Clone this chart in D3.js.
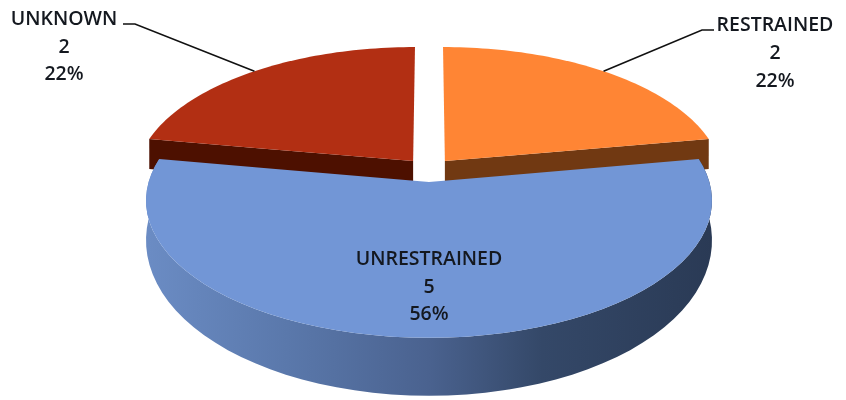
<!DOCTYPE html>
<html>
<head>
<meta charset="utf-8">
<script src="https://cdn.jsdelivr.net/npm/d3@7"></script>
<style>
  html, body { margin: 0; padding: 0; background: #fff; }
  svg { filter: blur(0.4px); }
  text { font-family: "Open Sans", sans-serif; font-weight: 600; font-size: 19.5px; fill: #14181f; text-anchor: middle; }
</style>
</head>
<body>
<svg width="846" height="400"></svg>
<script>
const categories = ["RESTRAINED", "UNRESTRAINED", "UNKNOWN"];
const counts = [2, 5, 2];
const percents = ["22%", "56%", "22%"];
const topColors = ["#ff8534", "#7296d6", "#b22f13"];
const sideColors = ["#713912", "url(#blueSide)", "#4d1000"];

const svg = d3.select("svg");

// pie plane -> screen, with a bit of perspective (near side is bigger)
const cx = 429, cy = 170, rx = 277, ry = 131.5, k = 0.134, explode = 0.09;
const project = (u, v) => {
  const s = 1 / (1 - k * v);
  return [cx + rx * u * s, cy + ry * v * s];
};
const depth = v => 35 + 21 * v;

const slices = d3.pie().sort(null)(counts).map((d, i) => {
  const mid = (d.startAngle + d.endAngle) / 2;
  return {
    i, start: d.startAngle, end: d.endAngle, mid,
    ox: explode * Math.sin(mid),
    oy: -explode * Math.cos(mid)
  };
});

const rimPoint = (s, a) => [s.ox + Math.sin(a), s.oy - Math.cos(a)];
const rim = s => d3.range(0, 61).map(j => rimPoint(s, s.start + (s.end - s.start) * j / 60));
const line = d3.line();
const upper = p => project(p[0], p[1]);
const lower = p => {
  const q = project(p[0], p[1]);
  return [q[0], q[1] + depth(p[1])];
};

const grad = svg.append("defs").append("linearGradient")
  .attr("id", "blueSide")
  .attr("gradientUnits", "userSpaceOnUse")
  .attr("x1", 146).attr("x2", 712).attr("y1", 0).attr("y2", 0);
grad.selectAll("stop")
  .data([[0, "#6b8cc4"], [0.25, "#5a78ab"], [0.5, "#4a628f"], [0.7, "#344868"], [1, "#2a3a55"]])
  .enter().append("stop")
  .attr("offset", d => d[0])
  .attr("stop-color", d => d[1]);

// back slices first, blue slice goes on top of them
[slices[2], slices[0], slices[1]].forEach(s => {
  const r = rim(s);
  const apex = [s.ox, s.oy];
  let wall;
  if (s.i === 1) {
    wall = r;
  } else {
    // flat cut face between the outer corner and the apex
    const corner = s.i === 0 ? r[r.length - 1] : r[0];
    wall = [corner, apex];
  }
  const ring = wall.map(upper).concat(wall.slice().reverse().map(lower));
  svg.append("path")
    .attr("d", line(ring) + "Z")
    .attr("fill", sideColors[s.i]);
  svg.append("path")
    .attr("d", line([apex].concat(r).map(upper)) + "Z")
    .attr("fill", topColors[s.i]);
});

// leader lines
const leader = (s, x, y, dir) => {
  const a = upper(rimPoint(s, s.mid));
  svg.append("path")
    .attr("d", line([a, [x, y], [x + dir * 12, y]]))
    .attr("fill", "none")
    .attr("stroke", "#111")
    .attr("stroke-width", 1.6);
};
leader(slices[0], 702, 30, 1);
leader(slices[2], 135, 24, -1);

const labelAt = [[775, 31, 28], [429, 265, 27.5], [64, 25, 27.5]];
slices.forEach(s => {
  const [x, y, step] = labelAt[s.i];
  const t = svg.append("text").attr("x", x).attr("y", y);
  [categories[s.i], counts[s.i], percents[s.i]].forEach((txt, j) => {
    t.append("tspan").attr("x", x).attr("y", y + j * step).text(txt);
  });
});
</script>
</body>
</html>
